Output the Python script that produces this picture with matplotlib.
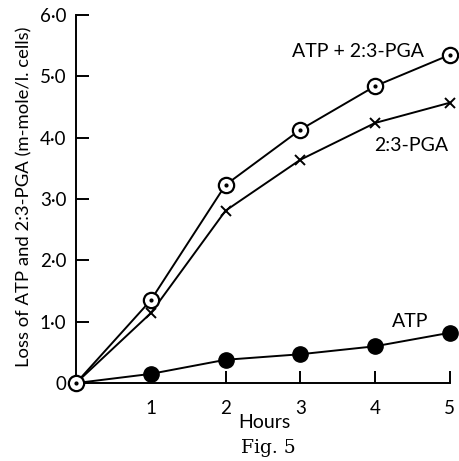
import matplotlib
matplotlib.use("Agg")
import matplotlib.pyplot as plt

# Values (hours vs loss, m-mole/l. cells)
hours = [0, 1, 2, 3, 4, 5]
atp_pga = [0, 1.35, 3.23, 4.13, 4.84, 5.35]
pga = [0, 1.14, 2.81, 3.64, 4.24, 4.57]
atp = [0, 0.15, 0.38, 0.47, 0.60, 0.82]

y_ticks = [0, 1, 2, 3, 4, 5, 6]
y_labels = ["0", "1\u00b70", "2\u00b70", "3\u00b70", "4\u00b70", "5\u00b70", "6\u00b70"]
x_ticks = [1, 2, 3, 4, 5]

plt.rcParams["font.family"] = ["Lato", "DejaVu Sans"]

fig = plt.figure(figsize=(4.59, 4.61), dpi=100)
ax = fig.add_axes([0.1656, 0.169, 0.8144, 0.7985])

# ATP line with filled circles
ax.plot(hours[1:], atp[1:], color="black", lw=1.4, marker="o", ms=11,
        mfc="black", mec="black", zorder=3)
ax.plot(hours[:2], atp[:2], color="black", lw=1.4, zorder=2)

# 2:3-PGA line with crosses
ax.plot(hours, pga, color="black", lw=1.4, marker="x", ms=7, mew=1.4, zorder=3)

# ATP + 2:3-PGA with dotted open circles
ax.plot(hours, atp_pga, color="black", lw=1.4, marker="o", ms=11,
        mfc="white", mec="black", mew=1.6, zorder=4)
ax.plot(hours, atp_pga, ls="none", marker="o", ms=2, color="black", zorder=5)

ax.set_xlim(0, 5)
ax.set_ylim(0, 6)
ax.spines["top"].set_visible(False)
ax.spines["right"].set_visible(False)
ax.spines["left"].set_linewidth(1.4)
ax.spines["bottom"].set_linewidth(1.4)

ax.set_yticks(y_ticks)
ax.set_yticklabels(y_labels, fontsize=13.5)
ax.set_xticks(x_ticks)
ax.set_xticklabels([str(x) for x in x_ticks], fontsize=13.5)
ax.tick_params(direction="in", length=9, width=1.4)
ax.tick_params(axis="y", pad=7)
ax.tick_params(axis="x", pad=12)

ax.set_xlabel("Hours", fontsize=14)
ax.xaxis.set_label_coords(0.505, -0.083)
ax.set_ylabel("Loss of ATP and 2:3-PGA (m-mole/l. cells)", fontsize=13.3)
ax.yaxis.set_label_coords(-0.117, 0.505)

ax.text(2.89, 5.4, "ATP + 2:3-PGA", fontsize=14, ha="left", va="center")
ax.text(4.48, 3.88, "2:3-PGA", fontsize=14, ha="center", va="center")
ax.text(4.47, 1.01, "ATP", fontsize=14, ha="center", va="center")

fig.text(0.584, 0.028, "Fig. 5", fontsize=13.5, family="DejaVu Serif",
         ha="center", va="center")

for line in ax.lines:
    line.set_clip_on(False)

fig.savefig("out.png", dpi=100)
